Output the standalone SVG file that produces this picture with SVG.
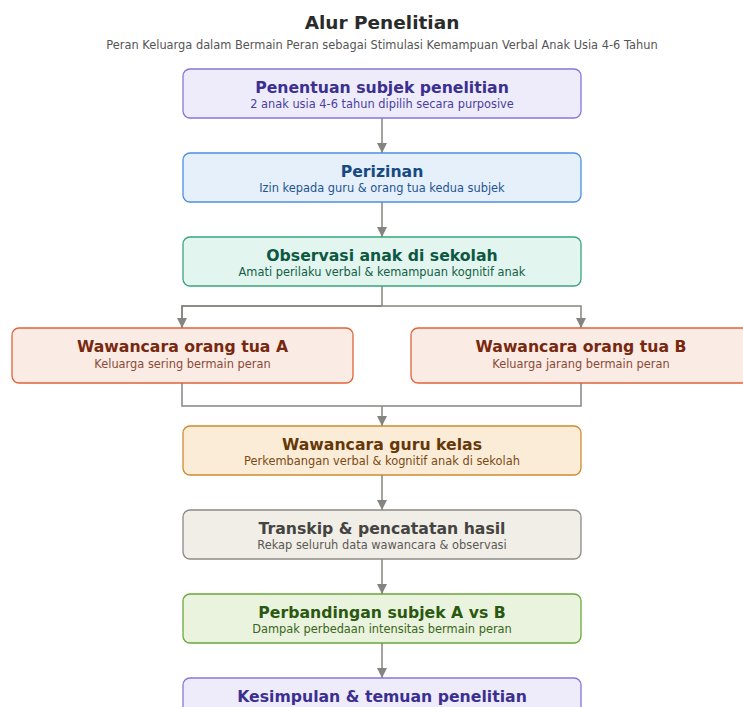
<svg xmlns="http://www.w3.org/2000/svg" width="743" height="707" viewBox="0 0 743 707">
<defs>
<marker id="ah" viewBox="0 0 10 10" refX="10" refY="5" markerWidth="10" markerHeight="10" markerUnits="userSpaceOnUse" orient="auto">
<path d="M0,0 L10,5 L0,10 z" fill="#858580"/>
</marker>
<style>
text{font-family:"DejaVu Sans","Liberation Sans",sans-serif;text-anchor:middle}
.t{font-size:15.7px;font-weight:bold}
.s{font-size:11.4px}
.c{fill:none;stroke:#858580;stroke-width:1.5}
rect{stroke-width:1.3}
.p rect{fill:#eeecfb;stroke:#8478db}.p .t{fill:#3b3090}.p .s{fill:#4a3fa0}
.b rect{fill:#e6f0fb;stroke:#4a90e2}.b .t{fill:#174a82}.b .s{fill:#1f5594}
.g rect{fill:#e2f5ee;stroke:#3aa57c}.g .t{fill:#0c5842}.g .s{fill:#135e48}
.o rect{fill:#faebe5;stroke:#e0643a}.o .t{fill:#78280f}.o .s{fill:#8c4a36}
.y rect{fill:#fbecd8;stroke:#d08a2e}.y .t{fill:#663808}.y .s{fill:#7a4a14}
.n rect{fill:#f1eee8;stroke:#8c8a84}.n .t{fill:#444441}.n .s{fill:#5a5955}
.l rect{fill:#eaf3de;stroke:#6aa83a}.l .t{fill:#2b5810}.l .s{fill:#3a6620}
</style>
</defs>
<rect width="743" height="707" fill="#ffffff" style="stroke:none"/>
<text x="382" y="29" style="font-size:18.5px;font-weight:bold;fill:#2b2b2b">Alur Penelitian</text>
<text x="382" y="49" style="font-size:11.4px;fill:#555">Peran Keluarga dalam Bermain Peran sebagai Stimulasi Kemampuan Verbal Anak Usia 4-6 Tahun</text>
<g id="connectors">
<path class="c" d="M382,118 V153" marker-end="url(#ah)"/>
<path class="c" d="M382,202 V237" marker-end="url(#ah)"/>
<path class="c" d="M382,286 V306"/>
<path class="c" d="M182,328 V306 H581 V328" marker-end="url(#ah)"/>
<path class="c" d="M382,306 H182 V328" marker-end="url(#ah)"/>
<path class="c" d="M182,383 V406 H581 V383"/>
<path class="c" d="M382,406 V426" marker-end="url(#ah)"/>
<path class="c" d="M382,475 V510" marker-end="url(#ah)"/>
<path class="c" d="M382,559 V594" marker-end="url(#ah)"/>
<path class="c" d="M382,643 V678" marker-end="url(#ah)"/>
</g>
<g id="n1" class="p"><rect x="183" y="69" width="398" height="49" rx="7"/><text class="t" x="382" y="93">Penentuan subjek penelitian</text><text class="s" x="382" y="108">2 anak usia 4-6 tahun dipilih secara purposive</text></g>
<g id="n2" class="b"><rect x="183" y="153" width="398" height="49" rx="7"/><text class="t" x="382" y="177">Perizinan</text><text class="s" x="382" y="192">Izin kepada guru &amp; orang tua kedua subjek</text></g>
<g id="n3" class="g"><rect x="183" y="237" width="398" height="49" rx="7"/><text class="t" x="382" y="261">Observasi anak di sekolah</text><text class="s" x="382" y="276">Amati perilaku verbal &amp; kemampuan kognitif anak</text></g>
<g id="nA" class="o"><rect x="12" y="328" width="341" height="55" rx="7"/><text class="t" x="182.5" y="352">Wawancara orang tua A</text><text class="s" x="182.5" y="368">Keluarga sering bermain peran</text></g>
<g id="nB" class="o"><rect x="411" y="328" width="341" height="55" rx="7"/><text class="t" x="581" y="352">Wawancara orang tua B</text><text class="s" x="581" y="368">Keluarga jarang bermain peran</text></g>
<g id="n4" class="y"><rect x="183" y="426" width="398" height="49" rx="7"/><text class="t" x="382" y="450">Wawancara guru kelas</text><text class="s" x="382" y="465">Perkembangan verbal &amp; kognitif anak di sekolah</text></g>
<g id="n5" class="n"><rect x="183" y="510" width="398" height="49" rx="7"/><text class="t" x="382" y="534">Transkip &amp; pencatatan hasil</text><text class="s" x="382" y="549">Rekap seluruh data wawancara &amp; observasi</text></g>
<g id="n6" class="l"><rect x="183" y="594" width="398" height="49" rx="7"/><text class="t" x="382" y="618">Perbandingan subjek A vs B</text><text class="s" x="382" y="633">Dampak perbedaan intensitas bermain peran</text></g>
<g id="n7" class="p"><rect x="183" y="678" width="398" height="49" rx="7"/><text class="t" x="382" y="702">Kesimpulan &amp; temuan penelitian</text></g>
</svg>
